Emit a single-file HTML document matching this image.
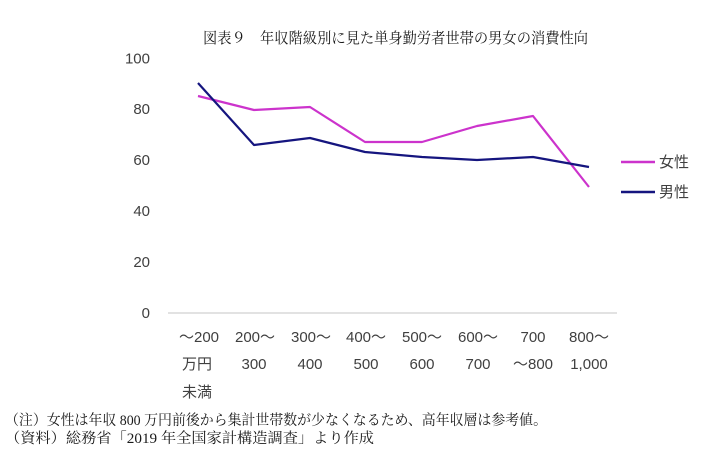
<!DOCTYPE html>
<html>
<head>
<meta charset="utf-8">
<style>
html,body{margin:0;padding:0;background:#fff;}
svg{display:block;}
.t{font-family:"Liberation Serif","Noto Serif CJK SC",serif;fill:#1a1a1a;}
.s{font-family:"Liberation Sans","Noto Sans CJK JP",sans-serif;fill:#404040;font-size:15px;}
</style>
</head>
<body>
<svg width="720" height="464" viewBox="0 0 720 464" xmlns="http://www.w3.org/2000/svg">
<rect width="720" height="464" fill="#fff"/>
<text class="t" x="203" y="43" font-size="15" textLength="385" lengthAdjust="spacingAndGlyphs">図表９　年収階級別に見た単身勤労者世帯の男女の消費性向</text>

<!-- y axis labels -->
<g class="s" text-anchor="end">
<text x="150" y="63.5">100</text>
<text x="150" y="114">80</text>
<text x="150" y="165">60</text>
<text x="150" y="216">40</text>
<text x="150" y="267">20</text>
<text x="150" y="318">0</text>
</g>

<!-- axis -->
<line x1="168" y1="313" x2="617" y2="313" stroke="#d9d9d9" stroke-width="1.5"/>

<!-- series -->
<polyline fill="none" stroke="#cc33cc" stroke-width="2.2" stroke-linejoin="round"
 points="198,96 254,110 310,107 365,142 422,142 477,126 533,116 589,187"/>
<polyline fill="none" stroke="#15157f" stroke-width="2.2" stroke-linejoin="round"
 points="198,83 254,145 310,138 365,152 422,157 477,160 533,157 589,167"/>

<!-- x labels -->
<g class="s" text-anchor="middle">
<text x="199" y="342">～200</text>
<text x="197" y="369">万円</text>
<text x="197" y="397">未満</text>
<text x="255" y="342">200～</text>
<text x="254" y="369">300</text>
<text x="311" y="342">300～</text>
<text x="310" y="369">400</text>
<text x="366" y="342">400～</text>
<text x="366" y="369">500</text>
<text x="422" y="342">500～</text>
<text x="422" y="369">600</text>
<text x="478" y="342">600～</text>
<text x="478" y="369">700</text>
<text x="533" y="342">700</text>
<text x="533" y="369">～800</text>
<text x="589" y="342">800～</text>
<text x="589" y="369">1,000</text>
</g>

<!-- legend -->
<line x1="621" y1="162" x2="655" y2="162" stroke="#cc33cc" stroke-width="2.5"/>
<text class="s" x="659" y="167">女性</text>
<line x1="621" y1="192" x2="655" y2="192" stroke="#15157f" stroke-width="2.5"/>
<text class="s" x="659" y="197">男性</text>

<!-- footnotes -->
<text class="t" x="5" y="425" font-size="14.5" textLength="542" lengthAdjust="spacingAndGlyphs">（注）女性は年収 800 万円前後から集計世帯数が少なくなるため、高年収層は参考値。</text>
<text class="t" x="5" y="443" font-size="14.5" textLength="369" lengthAdjust="spacingAndGlyphs">（資料）総務省「2019 年全国家計構造調査」より作成</text>
</svg>
</body>
</html>
